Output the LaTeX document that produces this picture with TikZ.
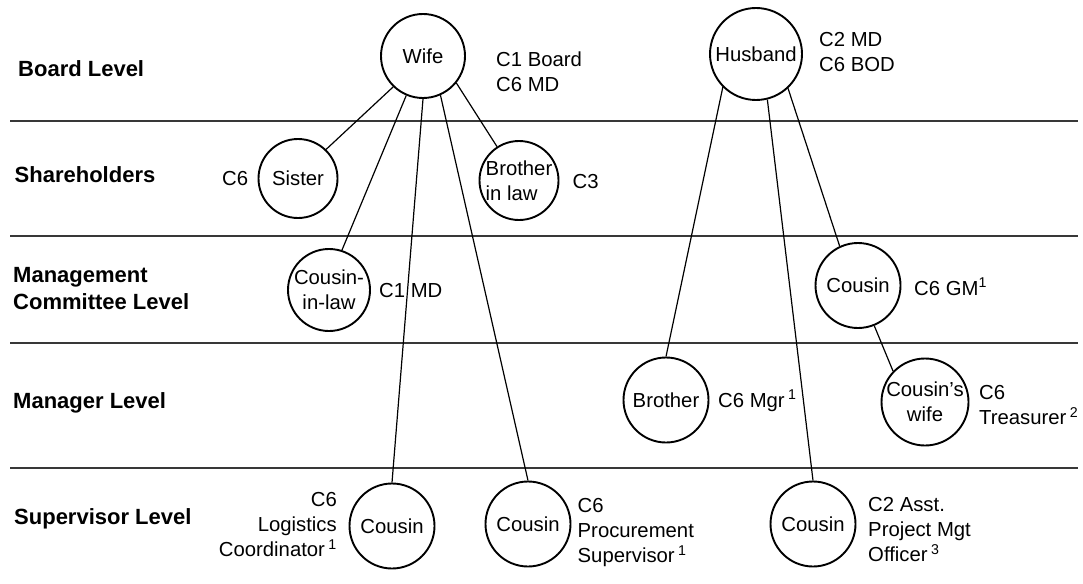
\documentclass[tikz,border=0pt]{standalone}
\usepackage{fontspec}
\setmainfont{Liberation Sans}
\newcommand\regfont{\fontsize{20.3}{25}\selectfont}
\newcommand\levfont{\fontsize{22}{27}\selectfont\bfseries}
\begin{document}
\begin{tikzpicture}[x=1pt,y=-1pt,
  person/.style={circle,draw=black,line width=1.9pt,inner sep=0pt,
    minimum size=#1,font=\regfont,align=center},
  person/.default=85pt,
  tie/.style={draw=black,line width=1.2pt},
  divider/.style={draw=black!78,line width=2pt},
  level/.style={inner sep=0pt,font=\levfont,align=left},
  role/.style={inner sep=0pt,font=\regfont,align=left}]
\useasboundingbox (0,0) rectangle (1083,583);

% level dividers
\draw[divider] (10,121) -- (1078,121);
\draw[divider] (10,236) -- (1078,236);
\draw[divider] (10,343) -- (1078,343);
\draw[divider] (10,468) -- (1078,468);

% level names
\node[level,anchor=base west] (lvboard) at (18,77) {Board Level};
\node[level,anchor=base west] (lvshare) at (14.5,182) {Shareholders};
\node[level,anchor=north west] (lvmgmt) at (13,267) {Management\\Committee Level};
\node[level,anchor=base west] (lvmgr) at (13,408) {Manager Level};
\node[level,anchor=base west] (lvsup) at (14,524) {Supervisor Level};

% family members
\node[person=84pt] (wife) at (423,56) {Wife};
\node[person=92pt] (husband) at (756,54) {Husband};
\node[person=79pt] (sister) at (298,178.5) {Sister};
\node[person=79pt,align=left] (bil) at (519,180.5) {Brother\\in law};
\node[person=82pt] (cil) at (329,290) {Cousin-\\in-law};
\node[person] (gm) at (858,285.5) {Cousin};
\node[person] (brother) at (666,400) {Brother};
\node[person] (cwife) at (925,402) {Cousin’s\\wife};
\node[person] (coua) at (392,526) {Cousin};
\node[person] (coub) at (528,524) {Cousin};
\node[person] (couc) at (813,524) {Cousin};

% positions held
\node[role,anchor=north west] (rwife) at (496,52) {C1 Board\\C6 MD};
\node[role,anchor=north west] (rhusband) at (819,32) {C2 MD\\C6 BOD};
\node[role,anchor=base west] (rsister) at (222,185) {C6};
\node[role,anchor=base west] (rbil) at (572.5,188) {C3};
\node[role,anchor=base west] (rcil) at (379,297) {C1 MD};
\node[role,anchor=base west] (rgm) at (914,295) {C6 GM\textsuperscript{1}};
\node[role,anchor=base west] (rbrother) at (718,407) {C6 Mgr\,\textsuperscript{1}};
\node[role,anchor=north west] (rcwife) at (979,385.5) {C6\\Treasurer\,\textsuperscript{2}};
\node[role,anchor=north east,align=right] (rcoua) at (337,492.3) {C6\\Logistics\\Coordinator\,\textsuperscript{1}};
\node[role,anchor=north west] (rcoub) at (577.5,498.3) {C6\\Procurement\\Supervisor\,\textsuperscript{1}};
\node[role,anchor=north west] (rcouc) at (868,497.3) {C2 Asst.\\Project Mgt\\Officer\,\textsuperscript{3}};

% family ties
\draw[tie] (wife.226) -- (sister.46);
\draw[tie] (wife.247) -- (cil.72);
\draw[tie] (wife.270) -- (coua.90);
\draw[tie] (wife.294) -- (coub.90);
\draw[tie] (wife.321) -- (bil.123);
\draw[tie] (husband.225) -- (brother.90);
\draw[tie] (husband.284) -- (couc.90);
\draw[tie] (husband.313) -- (gm.115);
\draw[tie] (gm.292) -- (cwife.136);
\end{tikzpicture}
\end{document}
